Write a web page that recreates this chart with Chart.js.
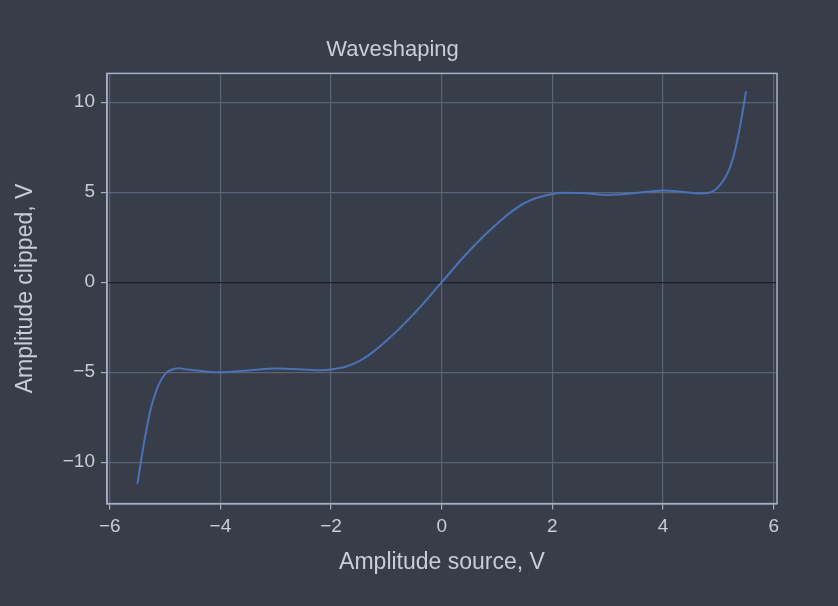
<!DOCTYPE html>
<html><head>
<script src="https://cdn.jsdelivr.net/npm/chart.js@4"></script>
<style>
html,body{margin:0;background:#383d4a;}
#wrap{width:838px;height:606px;}
</style>
</head><body>
<div id="wrap"><canvas id="c"></canvas></div>
<script>
const sourceV  = [-5.5, -5.35, -5.2, -5.0, -4.8, -4.6, -4.3, -4.0, -3.5, -3.0, -2.5, -2.0, -1.5, -1.0, -0.5, 0, 0.5, 1.0, 1.5, 2.0, 2.5, 3.0, 3.5, 4.0, 4.4, 4.8, 5.0, 5.2, 5.35, 5.5];
const clippedV = [-11.2, -8.4, -6.4, -5.1, -4.8, -4.85, -4.95, -5.0, -4.9, -4.8, -4.85, -4.85, -4.4, -3.25, -1.75, 0, 1.75, 3.25, 4.4, 4.9, 4.95, 4.85, 4.95, 5.1, 5.0, 4.95, 5.3, 6.3, 8.0, 10.6];
const xTicks = [-6, -4, -2, 0, 2, 4, 6];
const yTicks = [-10, -5, 0, 5, 10];

const fmt = v => String(v).replace('-', '\u2212');
const txt = '#c9cdd8', grid = '#5d6377', edge = '#a9afc2';
const font = { family: 'Liberation Sans', size: 19 };

new Chart(document.getElementById('c'), {
  type: 'scatter',
  data: { datasets: [{
    data: sourceV.map((x, i) => ({ x, y: clippedV[i] })),
    showLine: true, tension: 0.4, pointRadius: 0,
    borderColor: '#4a72b8', borderWidth: 2
  }]},
  options: {
    responsive: true, maintainAspectRatio: false, animation: false,
    layout: { padding: { left: 8, right: 61, top: 29, bottom: 26 } },
    plugins: {
      legend: { display: false }, tooltip: { enabled: false },
      title: { display: true, text: 'Waveshaping', color: txt, font: { family: 'Liberation Sans', size: 22, weight: 'normal' }, padding: { top: 8, bottom: 10 } }
    },
    scales: {
      x: {
        type: 'linear', min: -6.05, max: 6.06,
        afterBuildTicks: a => { a.ticks = xTicks.map(v => ({ value: v })); },
        ticks: { color: txt, font, callback: fmt, padding: 6 },
        grid: { color: grid, lineWidth: 1.2, tickLength: 6, tickColor: edge },
        border: { color: edge, width: 1.5 },
        title: { display: true, text: 'Amplitude source, V', color: txt, font: { family: 'Liberation Sans', size: 23 } }
      },
      y: {
        min: -12.3, max: 11.6,
        afterBuildTicks: a => { a.ticks = yTicks.map(v => ({ value: v })); },
        afterFit: a => { a.width = 99; },
        ticks: { color: txt, font, callback: fmt, padding: 6 },
        grid: { color: c => c.tick && c.tick.value === 0 ? '#1e2028' : grid, lineWidth: 1.2, tickLength: 6, tickColor: edge },
        border: { color: edge, width: 1.5 },
        title: { display: true, text: 'Amplitude clipped, V', color: txt, font: { family: 'Liberation Sans', size: 23 } }
      }
    }
  },
  plugins: [{
    id: 'frame',
    afterDraw(ch) {
      const { ctx, chartArea: a } = ch;
      ctx.save(); ctx.strokeStyle = edge; ctx.lineWidth = 1.5;
      ctx.strokeRect(a.left, a.top, a.right - a.left, a.bottom - a.top);
      ctx.restore();
    }
  }]
});
</script>
</body></html>
